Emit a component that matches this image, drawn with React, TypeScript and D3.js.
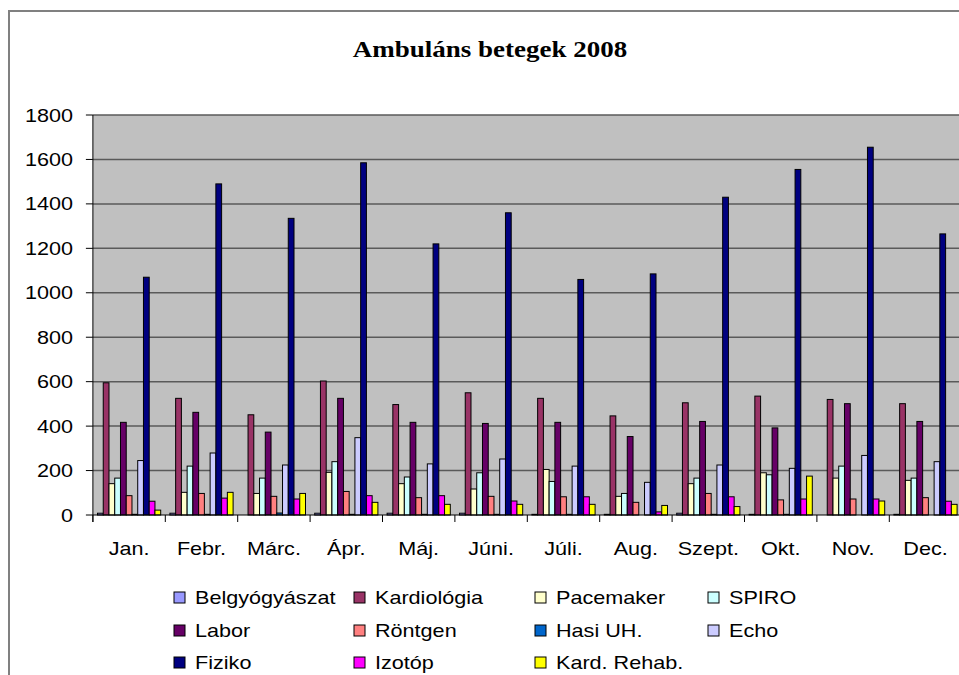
import { scaleBand, scaleLinear } from 'd3';
import React from 'react';

const months = ['Jan.', 'Febr.', 'Márc.', 'Ápr.', 'Máj.', 'Júni.', 'Júli.', 'Aug.', 'Szept.', 'Okt.', 'Nov.', 'Dec.'];

const seriesNames = [
  'Belgyógyászat',
  'Kardiológia',
  'Pacemaker',
  'SPIRO',
  'Labor',
  'Röntgen',
  'Hasi UH.',
  'Echo',
  'Fiziko',
  'Izotóp',
  'Kard. Rehab.',
];

const belgyogyaszat = [8, 8, 0, 8, 8, 8, 3, 3, 8, 3, 0, 3];
const kardiologia = [595, 525, 451, 603, 497, 550, 525, 446, 505, 535, 520, 501];
const pacemaker = [141, 102, 97, 192, 141, 117, 205, 84, 141, 190, 166, 156];
const spiro = [166, 220, 166, 240, 171, 190, 151, 97, 166, 181, 220, 166];
const labor = [417, 462, 373, 525, 417, 412, 417, 353, 421, 392, 501, 421];
const rontgen = [87, 97, 84, 106, 78, 84, 82, 57, 97, 68, 72, 78];
const hasiUH = [3, 3, 9, 3, 3, 3, 3, 0, 3, 3, 0, 0];
const echo = [245, 279, 225, 348, 230, 252, 220, 147, 225, 210, 268, 240];
const fiziko = [1070, 1490, 1335, 1585, 1220, 1360, 1060, 1085, 1430, 1555, 1655, 1265];
const izotop = [62, 76, 72, 87, 87, 63, 82, 14, 82, 72, 72, 62];
const kardRehab = [22, 102, 97, 57, 48, 48, 48, 43, 38, 175, 63, 48];

const seriesValues = [belgyogyaszat, kardiologia, pacemaker, spiro, labor, rontgen, hasiUH, echo, fiziko, izotop, kardRehab];

const yTicks = [0, 200, 400, 600, 800, 1000, 1200, 1400, 1600, 1800];

const colors = ['#9999FF', '#993366', '#FFFFCC', '#CCFFFF', '#660066', '#FF8080', '#0066CC', '#CCCCFF', '#000080', '#FF00FF', '#FFFF00'];

// the source picture is stretched sideways, so text gets the same stretch
const SX = 1.2;
const FONT = '"Liberation Sans", Arial, sans-serif';

const W = 959;
const H = 675;
const plot = { left: 92.9, right: 961.7, top: 115, bottom: 515 };
const legendX = [174, 354, 535, 708];
const legendY = [592, 625, 657];

const App = () => {
  const x0 = scaleBand<string>()
    .domain(months)
    .range([plot.left, plot.right])
    .paddingInner(0.127)
    .paddingOuter(0.0635);

  const x1 = scaleBand<string>().domain(seriesNames).range([0, x0.bandwidth()]);

  const y = scaleLinear().domain([0, 1800]).range([plot.bottom, plot.top]);

  const step = x0.step();
  const boundaries = months.map((_, i) => plot.left + i * step).concat([plot.left + months.length * step]);

  return (
    <svg width={W} height={H} style={{ position: 'absolute', left: 0, top: 0, background: '#fff' }}>
      <rect x={9} y={11} width={W + 20} height={H + 20} fill="none" stroke="#808080" strokeWidth={2} />

      <text
        transform={`translate(${490},${57}) scale(${SX},1)`}
        textAnchor="middle"
        fontFamily='"Liberation Serif", "Times New Roman", serif'
        fontWeight="bold"
        fontSize={22.5}
      >
        Ambuláns betegek 2008
      </text>

      <rect x={plot.left} y={plot.top} width={plot.right - plot.left} height={plot.bottom - plot.top} fill="#C0C0C0" />

      {yTicks.map((t) => (
        <g key={t}>
          {t > 0 && <line x1={plot.left} x2={plot.right} y1={y(t)} y2={y(t)} stroke="#5a5a5a" strokeWidth={1.5} />}
          <line x1={plot.left - 7} x2={plot.left} y1={y(t)} y2={y(t)} stroke="#000" />
          <text
            transform={`translate(${73},${y(t) + 6.5}) scale(${SX},1)`}
            textAnchor="end"
            fontFamily={FONT}
            fontSize={18}
          >
            {t}
          </text>
        </g>
      ))}

      {months.map((m, i) => (
        <g key={m}>
          {seriesValues.map((vals, s) => {
            const bx = (x0(m) ?? 0) + (x1(seriesNames[s]) ?? 0);
            const by = y(vals[i]);
            return (
              <rect
                key={s}
                x={bx}
                y={by}
                width={x1.bandwidth()}
                height={plot.bottom - by}
                fill={colors[s]}
                stroke="#000"
                strokeWidth={1}
              />
            );
          })}
          <text
            transform={`translate(${(x0(m) ?? 0) + x0.bandwidth() / 2},${555}) scale(${SX},1)`}
            textAnchor="middle"
            fontFamily={FONT}
            fontSize={18}
          >
            {m}
          </text>
        </g>
      ))}

      <line x1={plot.left} x2={plot.left} y1={plot.top} y2={plot.bottom + 7} stroke="#000" />
      <line x1={plot.left} x2={plot.right} y1={plot.bottom} y2={plot.bottom} stroke="#000" />
      {boundaries.map((bx, i) => (
        <line key={i} x1={bx} x2={bx} y1={plot.bottom} y2={plot.bottom + 7} stroke="#000" />
      ))}

      {seriesNames.map((name, i) => {
        const lx = legendX[i % 4];
        const ly = legendY[Math.floor(i / 4)];
        return (
          <g key={name}>
            <rect x={lx} y={ly} width={11} height={11} fill={colors[i]} stroke="#000" strokeWidth={1} />
            <text
              transform={`translate(${lx + 21},${ly + 12}) scale(${SX},1)`}
              fontFamily={FONT}
              fontSize={18}
            >
              {name}
            </text>
          </g>
        );
      })}
    </svg>
  );
};

export default App;
